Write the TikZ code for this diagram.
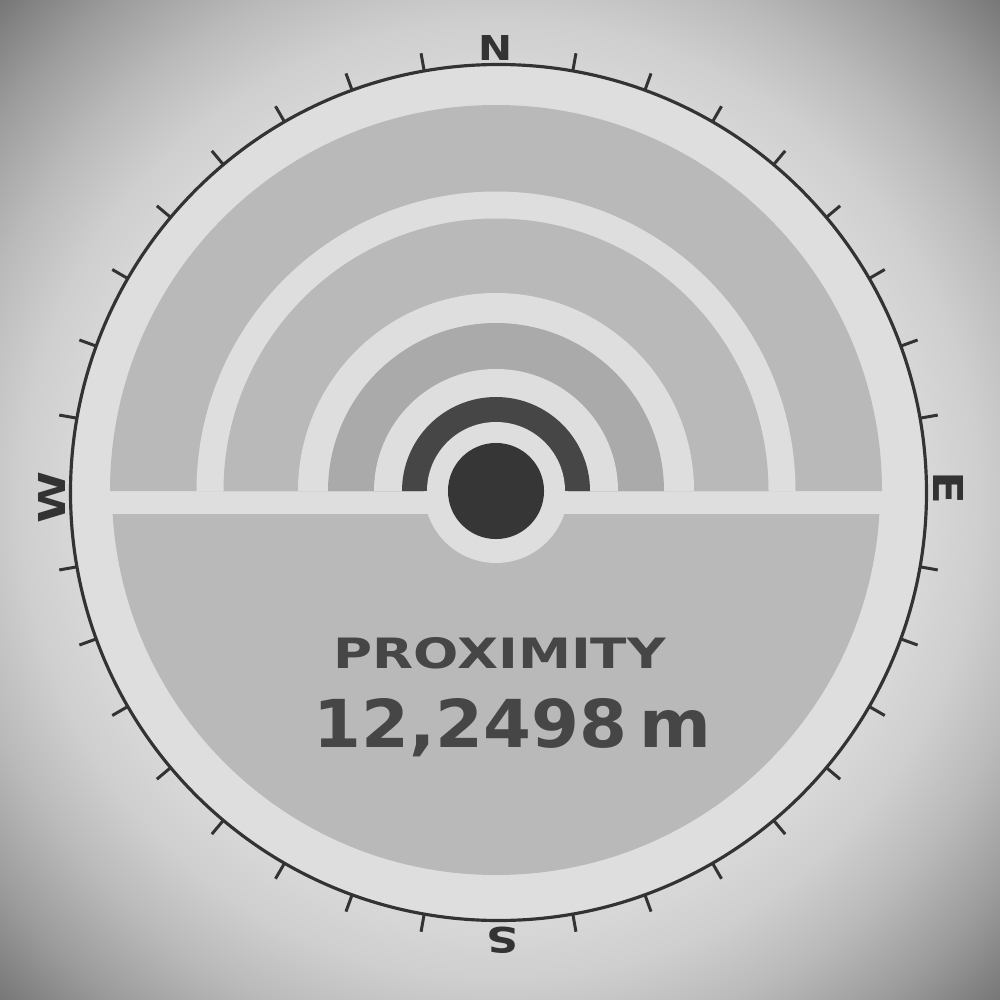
\documentclass[tikz,border=0pt]{standalone}
\usepackage{fontspec}
\newfontfamily\dv{DejaVu Sans}
\definecolor{lightc}{gray}{0.871}
\definecolor{greyA}{gray}{0.725}
\definecolor{greyB}{gray}{0.667}
\definecolor{darkA}{gray}{0.275}
\definecolor{darkB}{gray}{0.212}
\definecolor{inkc}{gray}{0.2}
\definecolor{txtc}{gray}{0.275}
\definecolor{vA}{gray}{0.88}
\definecolor{vB}{gray}{0.86}
\definecolor{vC}{gray}{0.81}
\definecolor{vD}{gray}{0.73}
\definecolor{vE}{gray}{0.61}
\definecolor{vF}{gray}{0.46}
\pgfdeclareradialshading{vign}{\pgfpoint{0bp}{0bp}}{color(0bp)=(vA); color(113.4bp)=(vB); color(136.1bp)=(vC); color(155.9bp)=(vD); color(178.6bp)=(vE); color(201.3bp)=(vF)}
\tikzset{
  tickmark/.style={draw=inkc, line width=0.85pt},
  letter/.style={text=inkc, inner sep=0pt, font=\dv\bfseries},
  readout/.style={text=txtc, inner sep=0pt, anchor=base west, font=\dv\bfseries}
}
\begin{document}
\begin{tikzpicture}[x=0.01cm,y=-0.01cm]
\useasboundingbox (0,0) rectangle (1000,1000);
\begin{scope}
  \clip (0,0) rectangle (1000,1000);
  \node[inner sep=0pt] (bg) at (500,500) {\pgfuseshading{vign}};
\end{scope}
\coordinate (cc) at (498.5,492.5);
\coordinate (ic) at (496,491);
% dial
\fill[lightc] (cc) circle[radius=428];
\draw[inkc, line width=0.9pt] (cc) circle[radius=428];
\foreach \a in {10,20,...,80,100,110,...,170,190,200,...,260,280,290,...,350}
  \draw[tickmark] (cc) ++(\a:428) -- ++(\a:18);
% upper half rings
\foreach \r/\c in {386/greyA, 299.5/lightc, 272.5/greyA, 198/lightc, 168/greyB, 122/lightc, 94/darkA, 69/lightc}
  \fill[\c] (ic) ++(180:\r) arc[start angle=180, end angle=360, radius=\r] -- cycle;
% lower half
\begin{scope}
  \clip (0,514) rectangle (1000,1000);
  \fill[greyA] (ic) circle[radius=384];
\end{scope}
\begin{scope}
  \clip (0,491) rectangle (1000,1000);
  \fill[lightc] (ic) circle[radius=72];
\end{scope}
\node[circle, fill=darkB, minimum size=0.96cm, inner sep=0pt] (dot) at (ic) {};
% compass letters
\node[letter] (N) at (496,47.5) {\resizebox{0.34cm}{0.25cm}{N}};
\node[letter, rotate=-90] (E) at (948,487.7) {\resizebox{0.33cm}{0.30cm}{E}};
\node[letter, rotate=180] (S) at (502,940) {\resizebox{0.32cm}{0.26cm}{S}};
\node[letter, rotate=90] (W) at (51.5,497) {\resizebox{0.52cm}{0.27cm}{W}};
% readout
\node[readout] (lbl) at (333,668) {\resizebox{3.32cm}{0.31cm}{PROXIMITY}};
\node[readout] (val) at (313,747) {\resizebox{3.97cm}{0.49cm}{12,2498\,m}};
\end{tikzpicture}
\end{document}
